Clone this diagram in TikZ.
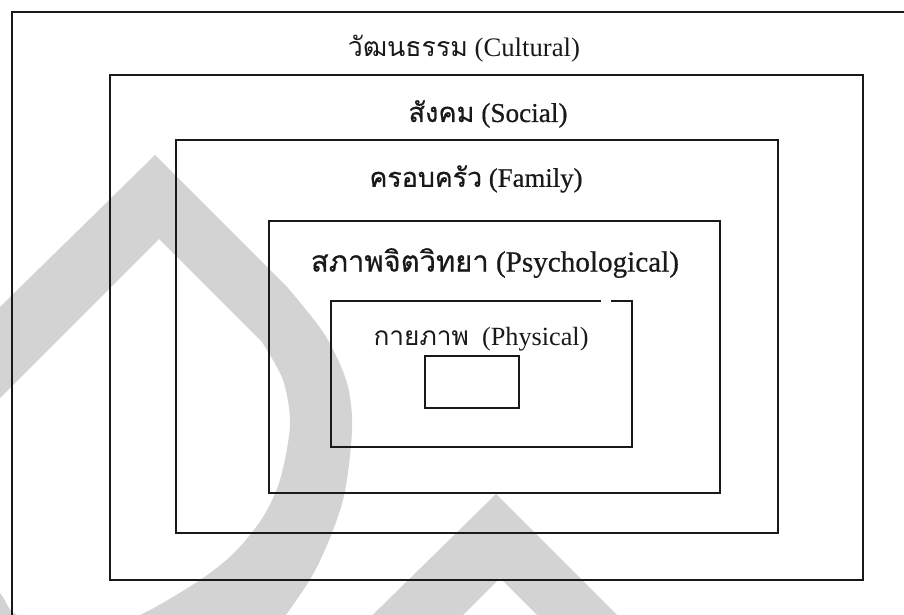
\documentclass[tikz,border=0pt]{standalone}
\usepackage{fontspec}
\setmainfont{Liberation Serif}
\newfontfamily\thaifont[Script=Thai]{Loma}
\newfontfamily\thaiheavy[Script=Thai,FakeBold=0.6]{Loma}
\newfontfamily\serifheavy[FakeBold=0.6]{Liberation Serif}
\definecolor{wm}{RGB}{211,211,211}
\definecolor{ink}{RGB}{25,25,25}
\tikzset{
  boxline/.style={draw=ink, line width=2pt},
  lbl/.style={inner sep=0pt, text=ink},
  wmfill/.style={fill=wm, even odd rule},
}
\newcommand\dropband[2]{%
  \fill[wmfill, shift={(#1,#2)}]
    (-100,405) -- (155,155) -- (288,288)
    -- plot[smooth] coordinates {(288,288) (325,335) (347,383) (352,430) (343,500) (318,565) (286,615) (240,675)}
    -- (100,720) -- (-100,720) -- cycle
    (159,239) -- (262,342)
    -- plot[smooth] coordinates {(262,342) (283,380) (290,425) (280,480) (263,517) (235,552) (200,580) (140,615) (78,636) (17,615) (0,593) (-40,545)}
    -- (-80,478) -- cycle;
}
\begin{document}
\begin{tikzpicture}[x=1pt,y=-1pt]
\useasboundingbox (0,0) rectangle (904,615);
% watermark
\begin{scope}
  \clip (0,0) rectangle (904,615);
  \dropband{0}{0}
  \dropband{341}{339}
\end{scope}
% nested boxes
\draw[boxline] (12,615) -- (12,12) -- (904,12);
\draw[boxline] (110,75) rectangle (863,580);
\draw[boxline] (176,140) rectangle (778,533);
\draw[boxline] (269,221) rectangle (720,493);
\draw[boxline] (601,301) -- (331,301) -- (331,447) -- (632,447) -- (632,301) -- (611,301);
\draw[boxline] (425,356) rectangle (519,408);
% labels
\node[lbl] (cult) at (464,49) {\resizebox{232pt}{!}{{\thaifont วัฒนธรรม} (Cultural)}};
\node[lbl] (soc) at (488,114) {\resizebox{159pt}{!}{{\thaiheavy สังคม} {\serifheavy (Social)}}};
\node[lbl] (fam) at (476,179) {\resizebox{213pt}{!}{{\thaiheavy ครอบครัว} {\serifheavy (Family)}}};
\node[lbl] (psy) at (495,263) {\resizebox{368pt}{!}{{\thaiheavy สภาพจิตวิทยา} {\serifheavy (Psychological)}}};
\node[lbl] (phy) at (481,339) {\resizebox{215pt}{!}{{\thaifont กายภาพ}\ \ (Physical)}};
\end{tikzpicture}
\end{document}
